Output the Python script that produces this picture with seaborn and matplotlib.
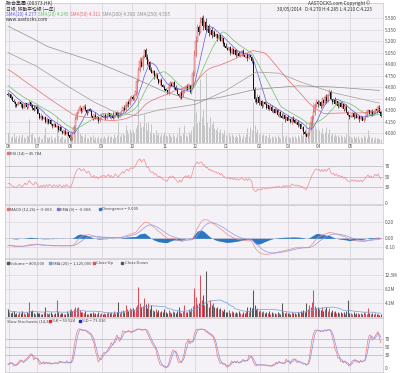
import numpy as np
import pandas as pd
import matplotlib
matplotlib.use("Agg")
import matplotlib.pyplot as plt
import seaborn as sns

sns.set_style("white")
plt.rcParams['font.family'] = ['Noto Sans CJK TC', 'DejaVu Sans']

# ---- data ----
# closes before the visible window, only used to warm up the indicators
pre_close = [5.02, 5.065, 4.99, 5.05, 5.095, 5.035, 5.08, 5.005, 5.05, 5.11,
             5.065, 5.02, 5.08, 5.035, 4.99, 5.05, 5.005, 4.96, 5.02, 4.975,
             4.93, 4.96, 4.90, 4.855, 4.90, 4.84, 4.87, 4.81, 4.765, 4.825,
             4.78, 4.735, 4.765, 4.705, 4.735, 4.675, 4.63, 4.69, 4.645, 4.60,
             4.645, 4.585, 4.615, 4.555, 4.60, 4.54, 4.57, 4.525, 4.555, 4.51]

c_jun = [4.495, 4.51, 4.465, 4.42, 4.405, 4.375, 4.36, 4.39, 4.405, 4.375, 4.33,
         4.36, 4.39, 4.345, 4.375, 4.405, 4.36, 4.33, 4.30, 4.345, 4.315]
c_jul = [4.255, 4.195, 4.225, 4.18, 4.21, 4.15, 4.18, 4.135, 4.165, 4.12, 4.09, 4.12,
         4.075, 4.09, 4.045, 4.075, 4.03, 4.00, 4.03, 3.985, 4.015, 3.97, 3.94]
c_aug = [3.94, 4.00, 4.075, 4.18, 4.255, 4.30, 4.33, 4.285, 4.315, 4.345, 4.30,
         4.27, 4.315, 4.285, 4.225, 4.195, 4.24, 4.18, 4.21, 4.165, 4.195, 4.225]
c_sep = [4.21, 4.24, 4.195, 4.225, 4.255, 4.21, 4.24, 4.195, 4.225, 4.27, 4.24,
         4.21, 4.255, 4.285, 4.33, 4.30, 4.36, 4.405, 4.375, 4.435, 4.465]
c_oct = [4.45, 4.495, 4.54, 4.675, 4.825, 4.93, 4.87, 4.99, 5.08, 4.99, 4.90, 4.93,
         4.825, 4.78, 4.81, 4.735, 4.765, 4.705, 4.66, 4.69, 4.63, 4.60, 4.57]
c_nov = [4.555, 4.525, 4.60, 4.645, 4.615, 4.66, 4.60, 4.57, 4.51, 4.48, 4.525,
         4.465, 4.54, 4.585, 4.615, 4.57, 4.63, 4.54, 4.60, 4.78, 5.02]
c_dec = [5.20, 5.38, 5.32, 5.44, 5.50, 5.40, 5.45, 5.35, 5.395, 5.305, 5.35,
         5.275, 5.32, 5.26, 5.29, 5.23, 5.275, 5.20, 5.245, 5.17, 5.14, 5.11]
c_jan = [5.08, 5.125, 5.05, 5.095, 5.035, 5.08, 5.02, 5.05, 5.005, 5.035, 5.065, 5.02,
         4.99, 5.035, 4.975, 5.02, 4.99, 4.945, 4.57, 4.45, 4.405, 4.465, 4.39]
c_feb = [4.42, 4.36, 4.405, 4.375, 4.33, 4.36, 4.315, 4.345, 4.285, 4.315,
         4.27, 4.30, 4.24, 4.27, 4.225, 4.195, 4.24, 4.18, 4.21, 4.165]
c_mar = [4.18, 4.15, 4.195, 4.165, 4.135, 4.15, 4.105, 4.12, 4.06, 4.075, 4.015,
         3.985, 3.955, 4.00, 4.06, 4.135, 4.21, 4.27, 4.36, 4.405, 4.375]
c_apr = [4.405, 4.36, 4.435, 4.39, 4.465, 4.42, 4.495, 4.54, 4.45, 4.405, 4.435,
         4.375, 4.42, 4.36, 4.39, 4.345, 4.375, 4.315, 4.345, 4.27, 4.24, 4.21]
c_may = [4.225, 4.255, 4.21, 4.24, 4.195, 4.225, 4.18, 4.21, 4.165, 4.195, 4.225,
         4.27, 4.30, 4.255, 4.285, 4.24, 4.27, 4.315, 4.285, 4.33, 4.27, 4.225]

# upper / lower wicks in half-ticks of 0.015, one digit per day
wick_up = ("21012102101210120121" "1"
           "10210120110210121012" "101"
           "21232121012101210210" "12"
           "10121012101210121023" "2"
           "21232432123212112101" "212"
           "10121012101210121023" "4"
           "43252323121212101210" "12"
           "10121012101210121012" "132"
           "21012102101210121012"
           "10121012101210122323" "2"
           "21212312101210121012" "10"
           "10121012101210121012" "21")
wick_dn = ("12101210121012101210" "2"
           "01210121012101210121" "012"
           "32121012101210121012" "10"
           "01210121012101210121" "1"
           "12121213121210121012" "101"
           "01210121012101210121" "2"
           "21312412131210121012" "10"
           "01210121012101210213" "212"
           "12101210121012101210"
           "01210121012101213221" "2"
           "12121210121012101210" "12"
           "01210121012101210121" "01")
WICK_TICK = 0.015

# volume, millions
v_jun = [2.2, 1.6, 1.1, 1.4, 1.9, 1.0, 1.3, 0.9, 1.5, 1.2, 1.8, 1.1, 1.0, 1.6, 1.3, 4.5, 1.7, 2.0, 1.2, 0.9, 1.4]
v_jul = [1.1, 1.3, 0.8, 1.0, 1.5, 3.0, 1.2, 0.9, 1.1, 1.4, 0.8, 1.0, 1.2, 5.0, 1.6, 0.9, 1.1, 1.3, 0.8, 1.0, 1.7, 1.2, 2.0]
v_aug = [2.4, 1.8, 2.2, 2.8, 2.5, 3.0, 2.0, 1.6, 1.4, 1.2, 1.8, 1.0, 0.9, 1.3, 1.1, 1.5, 0.8, 1.2, 1.0, 1.4, 0.9, 1.1]
v_sep = [1.0, 1.3, 0.9, 1.2, 1.6, 1.1, 1.4, 1.0, 1.8, 1.2, 1.5, 4.3, 1.3, 1.7, 2.0, 1.6, 3.5, 2.4, 1.8, 2.6, 2.2]
v_oct = [2.5, 2.0, 2.8, 3.5, 8.8, 4.0, 3.0, 3.2, 5.5, 3.8, 2.5, 4.0, 2.2, 3.6, 2.0, 1.8, 2.4, 1.6, 2.0, 1.4, 1.8, 1.5, 2.2]
v_nov = [1.6, 1.3, 2.0, 1.5, 1.2, 1.8, 1.4, 1.1, 1.7, 3.0, 1.5, 1.3, 1.9, 3.5, 1.6, 1.4, 2.2, 1.8, 2.5, 3.2, 8.5]
v_dec = [6.0, 3.8, 4.2, 12.3, 5.0, 6.5, 3.5, 13.4, 4.0, 3.0, 5.0, 3.6, 4.2, 2.8, 2.5, 3.0, 2.2, 2.6, 2.0, 1.8, 2.4, 1.6]
v_jan = [1.5, 2.0, 1.3, 1.8, 1.4, 1.2, 1.6, 1.1, 1.9, 1.3, 1.0, 1.5, 1.2, 1.7, 2.8, 1.4, 3.0, 2.5, 7.8, 3.5, 2.2, 2.6, 1.8]
v_feb = [2.0, 1.6, 1.8, 1.3, 1.5, 1.2, 1.7, 1.0, 1.4, 1.1, 1.3, 0.9, 1.6, 1.2, 1.0, 4.0, 1.4, 1.1, 1.5, 1.3]
v_mar = [1.2, 1.0, 1.4, 1.1, 1.3, 0.9, 1.5, 1.2, 1.8, 1.4, 2.0, 1.6, 4.2, 2.4, 3.5, 2.8, 4.5, 7.8, 3.2, 2.6, 3.0]
v_apr = [2.4, 2.0, 2.8, 1.8, 2.2, 3.0, 1.9, 2.6, 1.6, 2.0, 1.4, 1.8, 1.3, 1.6, 1.2, 1.5, 1.1, 1.4, 1.0, 1.7, 5.0, 1.3]
v_may = [1.2, 1.0, 1.4, 0.9, 1.1, 1.3, 0.8, 1.2, 1.0, 1.5, 1.1, 0.9, 2.5, 1.3, 1.0, 1.2, 0.8, 1.1, 0.9, 1.0, 0.7, 0.8]

# long moving averages at a few dates
sma100_dates = ["2013-05-31", "2013-06-28", "2013-07-26", "2013-08-23", "2013-09-13",
                "2013-10-04", "2013-10-25", "2013-12-02", "2013-12-31", "2014-01-29",
                "2014-02-20", "2014-03-14", "2014-04-15", "2014-05-29"]
sma100_vals = [5.05, 4.87, 4.63, 4.405, 4.27, 4.225, 4.30, 4.375, 4.555, 4.795,
               4.78, 4.66, 4.525, 4.39]
sma250_dates = ["2013-05-31", "2013-06-24", "2013-07-10", "2013-08-28", "2013-09-30",
                "2013-10-31", "2013-12-02", "2013-12-25", "2014-01-29", "2014-03-11",
                "2014-04-15", "2014-05-29"]
sma250_vals = [5.395, 5.245, 5.125, 4.915, 4.735, 4.54, 4.42, 4.465, 4.57, 4.615, 4.60, 4.555]

price_ticks = [4.00, 4.15, 4.30, 4.45, 4.60, 4.75, 4.90, 5.05, 5.20, 5.35, 5.50]

# ---- assemble ----
close = np.array(c_jun + c_jul + c_aug + c_sep + c_oct + c_nov + c_dec +
                 c_jan + c_feb + c_mar + c_apr + c_may)
n = len(close)
vol = np.array(v_jun + v_jul + v_aug + v_sep + v_oct + v_nov + v_dec +
               v_jan + v_feb + v_mar + v_apr + v_may) * 1e6
up_w = np.array([int(ch) for ch in wick_up]) * WICK_TICK
dn_w = np.array([int(ch) for ch in wick_dn]) * WICK_TICK
dates = pd.bdate_range("2013-05-31", periods=n)
x = np.arange(n)

openp = np.concatenate([[pre_close[-1]], close[:-1]])
high = np.maximum(openp, close) + up_w
low = np.minimum(openp, close) - dn_w
upday = close >= openp

full = pd.Series(pre_close + list(close))
npre = len(pre_close)
sma10 = full.rolling(10).mean().values[npre:]
sma20 = full.rolling(20).mean().values[npre:]
sma50 = full.rolling(50, min_periods=1).mean().values[npre:]
date_pos = {d.strftime("%Y-%m-%d"): i for i, d in enumerate(dates)}
s100_x = [date_pos[d] for d in sma100_dates]
s250_x = [date_pos[d] for d in sma250_dates]

# RSI 14 (Wilder)
delta = full.diff()
gain = delta.clip(lower=0).ewm(alpha=1 / 14, adjust=False).mean()
loss = (-delta.clip(upper=0)).ewm(alpha=1 / 14, adjust=False).mean()
rsi = (100 - 100 / (1 + gain / loss)).values[npre:]

# MACD 12,26,9
ema12 = full.ewm(span=12, adjust=False).mean()
ema26 = full.ewm(span=26, adjust=False).mean()
macd = ema12 - ema26
signal = macd.ewm(span=9, adjust=False).mean()
hist = (macd - signal).values[npre:]
macd = macd.values[npre:]
signal = signal.values[npre:]

# slow stochastic 14,3
fh = pd.Series(list(pre_close) + list(high))
fl = pd.Series(list(pre_close) + list(low))
hh = fh.rolling(14).max()
ll = fl.rolling(14).min()
fastk = (full - ll) / (hh - ll) * 100
slowk = fastk.rolling(3).mean()
slowd = slowk.rolling(3).mean()
slowk = slowk.values[npre:]
slowd = slowd.values[npre:]

volsma = pd.Series(vol).rolling(20, min_periods=1).mean().values

# ---- figure ----
W, H = 400, 373
fig = plt.figure(figsize=(W / 100, H / 100), dpi=100)
fig.patch.set_facecolor("white")
BG = "#f4f2f7"
GRID = "#d4d0da"
TXT = "#555555"
FS = 3.4
LEFT, RIGHT = 5, 383


def rect(top, bottom):
    return [LEFT / W, 1 - bottom / H, (RIGHT - LEFT) / W, (bottom - top) / H]


def panel(top, bottom):
    ax = fig.add_axes(rect(top, bottom))
    ax.set_facecolor(BG)
    for s in ax.spines.values():
        s.set_color("#c8c4cc")
        s.set_linewidth(0.5)
    ax.set_xlim(-2, n + 0.5)
    ax.yaxis.tick_right()
    ax.tick_params(axis="y", labelsize=FS, length=0, pad=1.5, colors=TXT)
    ax.tick_params(axis="x", length=0, labelbottom=False)
    return ax


month_pos = [i for i in range(1, n) if dates[i].month != dates[i - 1].month]
month_lab = ["%02d" % dates[i].month for i in month_pos]


def vgrid(ax):
    for p in month_pos:
        ax.axvline(p - 0.5, color=GRID, lw=0.5, zorder=0)


# volume shadow behind the price panel
axv = fig.add_axes(rect(3, 143))
axv.set_facecolor(BG)
axv.set_xlim(-2, n + 0.5)
axv.set_ylim(0, 26.8e6)
axv.vlines(x, 0, vol, colors="#c4c4c4", lw=0.7, zorder=1)
axv.set_xticks([])
axv.set_yticks([])
for s in axv.spines.values():
    s.set_visible(False)

# main price panel
P_TOP = 5.5 + 15 / 76.67
P_BOT = 5.5 - 125 / 76.67
ax = panel(3, 143)
ax.patch.set_visible(False)
ax.set_ylim(P_BOT, P_TOP)
vgrid(ax)
for t in price_ticks:
    ax.axhline(t, color=GRID, lw=0.4, zorder=0)
ax.set_yticks(price_ticks)
ax.set_yticklabels(["%.3f" % t for t in price_ticks])

col = np.where(upday, "#d44c4c", "#111111")
ax.vlines(x, low, high, colors=col, lw=0.45, zorder=3)
ax.bar(x[upday], (close - openp)[upday] + 0.003, bottom=openp[upday], width=0.7,
       color="#fbe3e3", edgecolor="#d44c4c", linewidth=0.3, zorder=4)
ax.bar(x[~upday], (close - openp)[~upday] - 0.003, bottom=openp[~upday], width=0.7,
       color="#111111", linewidth=0, zorder=4)

sns.lineplot(x=x, y=sma10, ax=ax, color="#5d5dd8", lw=0.5, zorder=5)
sns.lineplot(x=x, y=sma20, ax=ax, color="#6cc06c", lw=0.5, zorder=5)
sns.lineplot(x=x, y=sma50, ax=ax, color="#e86a6a", lw=0.5, zorder=5)
sns.lineplot(x=s100_x, y=sma100_vals, ax=ax, color="#a59a94", lw=0.5, zorder=5)
sns.lineplot(x=s250_x, y=sma250_vals, ax=ax, color="#8f8f8f", lw=0.5, zorder=5)
ax.set_ylabel("")

for p, lab in zip(month_pos, month_lab):
    xp = LEFT + (p - 0.5 + 2) / (n + 2.5) * (RIGHT - LEFT)
    fig.text(xp / W, 1 - 146.5 / H, lab, fontsize=FS, color=TXT, ha="center", va="center")

# header texts
fig.text(6 / W, 1 - 3 / H, "聯合集團 (00373.HK)", fontsize=3.6, color="#333333", va="center")
fig.text(6 / W, 1 - 9 / H, "日線, 移動平均線 (一年)", fontsize=3.4, color="#333333", va="center")
legs = [("SMA(10) %.3f" % sma10[-1], "#5d5dd8"), ("SMA(20) %.3f" % sma20[-1], "#6cc06c"),
        ("SMA(50) %.3f" % sma50[-1], "#e86a6a"), ("SMA(100) %.3f" % sma100_vals[-1], "#8f8f8f"),
        ("SMA(250) %.3f" % sma250_vals[-1], "#8f8f8f")]
xx = 6
for t, c in legs:
    fig.text(xx / W, 1 - 14 / H, t, fontsize=3.4, color=c, va="center")
    xx += 32 if "(10)" in t or "(20)" in t or "(50)" in t else 35
fig.text(6 / W, 1 - 19.5 / H, "www.aastocks.com", fontsize=3.4, color="#333333", va="center")
fig.text(370 / W, 1 - 3 / H, "AASTOCKS.com Copyright ©", fontsize=3.4, color="#333333",
         va="center", ha="right")
fig.text(372 / W, 1 - 9 / H,
         "30/05/2014   O:%.3f H:%.3f L:%.3f C:%.3f" % (openp[-1], high[-1], low[-1], close[-1]),
         fontsize=3.4, color="#333333", va="center", ha="right")


def legend_row(y, items, x0=7):
    xx = x0
    for t, c, w in items:
        if c is not None:
            fig.patches.append(plt.Rectangle((xx / W, 1 - (y + 1.2) / H), 2.4 / W, 2.4 / H,
                                             transform=fig.transFigure, color=c))
            fig.text((xx + 3.5) / W, 1 - y / H, t, fontsize=3.0, color="#444444", va="center")
        else:
            fig.text(xx / W, 1 - y / H, t, fontsize=3.0, color="#444444", va="center")
        xx += w


# RSI
ar = panel(149, 204)
ar.set_ylim(-1.5, 102.3)
vgrid(ar)
for t in (30, 50, 70):
    ar.axhline(t, color="#b8b4bc", lw=0.5, zorder=1)
sns.lineplot(x=x, y=rsi, ax=ar, color="#ef8c8c", lw=0.5)
ar.set_yticks([0, 30, 50, 70])
ar.set_ylabel("")
legend_row(153, [("RSI (14) = %.3f" % rsi[-1], "#ef6f6f", 40)])

# MACD
am = panel(205, 258)
am.set_ylim(-0.237, 0.401)
vgrid(am)
am.axhline(0, color="#b8b4bc", lw=0.4, zorder=1)
for t in (0.2, -0.1):
    am.axhline(t, color=GRID, lw=0.4, zorder=0)
am.fill_between(x, 0, hist, color="#2a78c4", lw=0, zorder=2)
sns.lineplot(x=x, y=macd, ax=am, color="#ef8c8c", lw=0.5, zorder=3)
sns.lineplot(x=x, y=signal, ax=am, color="#9a95dc", lw=0.5, zorder=3)
am.set_yticks([-0.1, 0.0, 0.2])
am.set_yticklabels(["-0.10", "0.00", "0.20"])
am.set_ylabel("")
legend_row(209, [("MACD (12,26) = %.3f" % macd[-1], "#ef6f6f", 50),
                 ("EMA (9) = %.3f" % signal[-1], "#7b73d6", 42),
                 ("Divergence = %.3f" % hist[-1], "#2a78c4", 45)])

# volume
aq = panel(259, 317)
aq.set_ylim(0, 17e6)
vgrid(aq)
for t in (4.1e6, 8.2e6, 12.3e6):
    aq.axhline(t, color=GRID, lw=0.4, zorder=0)
aq.vlines(x, 0, vol, colors=np.where(upday, "#d4505c", "#555555"), lw=0.75, zorder=2)
sns.lineplot(x=x, y=volsma, ax=aq, color="#6f9ed6", lw=0.5, zorder=3)
aq.set_yticks([4.1e6, 8.2e6, 12.3e6])
aq.set_yticklabels(["4.1M", "8.2M", "12.3M"])
aq.set_ylabel("")
legend_row(263, [("Volume = {:,.0f}".format(vol[-1]), "#555555", 42),
                 ("SMA (20) = {:,.0f}".format(volsma[-1]), "#6f9ed6", 44),
                 ("Close Up", "#d4505c", 28), ("Close Down", "#555555", 30)])

# slow stochastic
ak = panel(318, 372)
ak.set_ylim(-9.9, 119.5)
vgrid(ak)
for t in (30, 50, 70):
    ak.axhline(t, color="#b8b4bc", lw=0.5, zorder=1)
sns.lineplot(x=x, y=slowk, ax=ak, color="#f07a7a", lw=0.5)
sns.lineplot(x=x, y=slowd, ax=ak, color="#8f8fe0", lw=0.5)
ak.set_yticks([0, 30, 50, 70])
ak.set_ylabel("")
legend_row(321, [("Slow Stochastic (14,3)", None, 42),
                 ("%%K = %.3f" % slowk[-1], "#ee2222", 30),
                 ("%%D = %.3f" % slowd[-1], "#2222cc", 30)])

fig.savefig("out.png", dpi=100, facecolor="white")
